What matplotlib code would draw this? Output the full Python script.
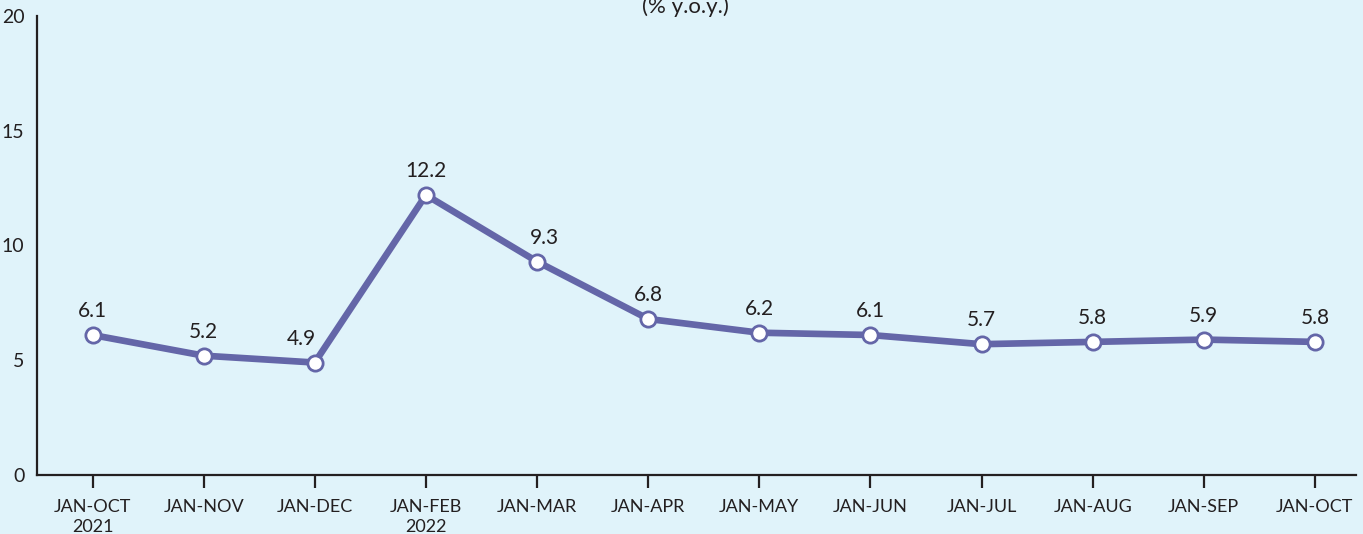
import matplotlib
matplotlib.use("Agg")
import matplotlib.pyplot as plt

categories = ["JAN-OCT\n2021", "JAN-NOV", "JAN-DEC", "JAN-FEB\n2022", "JAN-MAR", "JAN-APR",
              "JAN-MAY", "JAN-JUN", "JAN-JUL", "JAN-AUG", "JAN-SEP", "JAN-OCT"]
values = [6.1, 5.2, 4.9, 12.2, 9.3, 6.8, 6.2, 6.1, 5.7, 5.8, 5.9, 5.8]
y_ticks = [0, 5, 10, 15, 20]

plt.rcParams['font.family'] = ['Lato', 'DejaVu Sans']
bg = "#e0f3fa"
line_color = "#6466a8"
text_color = "#231f20"

fig = plt.figure(figsize=(13.63, 5.34), dpi=100, facecolor=bg)
ax = fig.add_axes([37/1363, 1 - 475/534, (1356-37)/1363, (475-16)/534])
ax.set_facecolor(bg)

x = list(range(len(values)))
ax.plot(x, values, color=line_color, lw=4.8, marker="o", markersize=11,
        markerfacecolor="white", markeredgecolor=line_color, markeredgewidth=2, zorder=3,
        solid_joinstyle="round", clip_on=False)

# small horizontal nudges of labels (points), as in the reference
label_dx = [0, 0, -10, 0, 5, 0, 0, 0, 0, 0, 0, 0]
for xi, v, dx in zip(x, values, label_dx):
    ax.annotate(f"{v}", (xi, v), xytext=(dx, 10), textcoords="offset points",
                ha="center", va="bottom", fontsize=15, color=text_color)

ax.set_xlim(-0.5, 11.37)
ax.set_ylim(0, 20)
ax.set_yticks(y_ticks)
ax.set_xticks(x)
ax.set_xticklabels(categories, fontsize=13, color=text_color, linespacing=1.3)
ax.tick_params(axis="y", length=0, labelsize=14, labelcolor=text_color, pad=9)
ax.tick_params(axis="x", length=9.5, width=1.6, color=text_color, pad=7.5)
for s in ["top", "right"]:
    ax.spines[s].set_visible(False)
for s in ["left", "bottom"]:
    ax.spines[s].set_linewidth(1.6)
    ax.spines[s].set_color(text_color)

fig.text(685/1363, 1 - 7/534, "(% y.o.y.)", ha="center", va="center", fontsize=16, color=text_color)

fig.savefig("out.png", dpi=100, facecolor=bg)
